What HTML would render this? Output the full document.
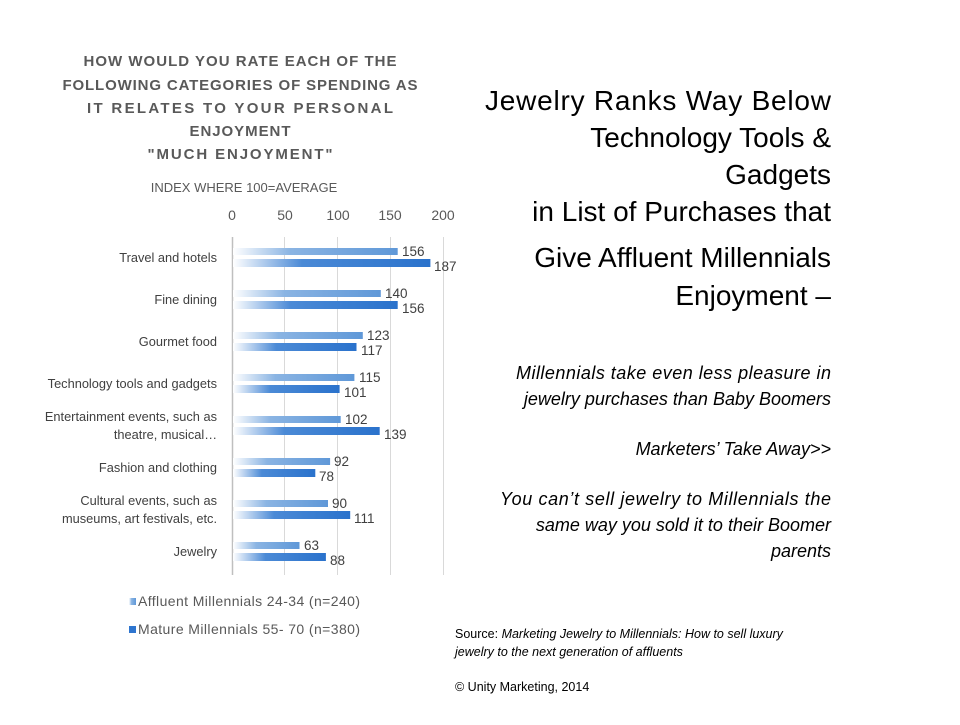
<!DOCTYPE html>
<html><head><meta charset="utf-8"><style>
body{margin:0;background:#fff;}
svg text{font-family:"Liberation Sans",sans-serif;}
</style></head><body>
<svg width="960" height="720" xmlns="http://www.w3.org/2000/svg">
<defs>
<linearGradient id="g1" x1="0" x2="1" y1="0" y2="0"><stop offset="0" stop-color="#fff"/><stop offset="0.35" stop-color="#8ab4e3"/><stop offset="1" stop-color="#5f98d8"/></linearGradient>
<linearGradient id="g2" x1="0" x2="1" y1="0" y2="0"><stop offset="0" stop-color="#fff"/><stop offset="0.35" stop-color="#4b8ad6"/><stop offset="1" stop-color="#2a72cc"/></linearGradient>
</defs>
<g font-size="15" font-weight="bold" fill="#595959" text-anchor="middle">
<text x="240" y="66" textLength="313">HOW WOULD YOU RATE EACH OF THE</text>
<text x="240" y="90" textLength="355">FOLLOWING CATEGORIES OF SPENDING AS</text>
<text x="240" y="113" textLength="306">IT RELATES TO YOUR PERSONAL</text>
<text x="240" y="136" textLength="101">ENJOYMENT</text>
<text x="240" y="159" textLength="185">"MUCH ENJOYMENT"</text>
</g>
<text x="244" y="192" font-size="13" fill="#595959" text-anchor="middle">INDEX WHERE 100=AVERAGE</text>
<g font-size="14" fill="#595959" text-anchor="middle">
<text x="232" y="220">0</text><text x="285" y="220">50</text><text x="338" y="220">100</text><text x="390" y="220">150</text><text x="443" y="220">200</text>
</g>
<g stroke="#d9d9d9" stroke-width="1">
<line x1="284.5" y1="237" x2="284.5" y2="575"/><line x1="337.5" y1="237" x2="337.5" y2="575"/><line x1="390.5" y1="237" x2="390.5" y2="575"/><line x1="443.5" y1="237" x2="443.5" y2="575"/>
</g>
<line x1="232.5" y1="237" x2="232.5" y2="575" stroke="#bfbfbf" stroke-width="1.5"/>
<g>
<rect x="233" y="248" width="164.7" height="7" fill="url(#g1)"/><rect x="233" y="259" width="197.4" height="8" fill="url(#g2)"/>
<rect x="233" y="290" width="147.8" height="7" fill="url(#g1)"/><rect x="233" y="301" width="164.7" height="8" fill="url(#g2)"/>
<rect x="233" y="332" width="129.8" height="7" fill="url(#g1)"/><rect x="233" y="343" width="123.5" height="8" fill="url(#g2)"/>
<rect x="233" y="374" width="121.4" height="7" fill="url(#g1)"/><rect x="233" y="385" width="106.6" height="8" fill="url(#g2)"/>
<rect x="233" y="416" width="107.7" height="7" fill="url(#g1)"/><rect x="233" y="427" width="146.7" height="8" fill="url(#g2)"/>
<rect x="233" y="458" width="97.1" height="7" fill="url(#g1)"/><rect x="233" y="469" width="82.3" height="8" fill="url(#g2)"/>
<rect x="233" y="500" width="95.0" height="7" fill="url(#g1)"/><rect x="233" y="511" width="117.2" height="8" fill="url(#g2)"/>
<rect x="233" y="542" width="66.5" height="7" fill="url(#g1)"/><rect x="233" y="553" width="92.9" height="8" fill="url(#g2)"/>
</g>
<g font-size="13.5" fill="#404040">
<text x="402" y="256">156</text><text x="434" y="271">187</text>
<text x="385" y="298">140</text><text x="402" y="313">156</text>
<text x="367" y="340">123</text><text x="361" y="355">117</text>
<text x="359" y="382">115</text><text x="344" y="397">101</text>
<text x="345" y="424">102</text><text x="384" y="439">139</text>
<text x="334" y="466">92</text><text x="319" y="481">78</text>
<text x="332" y="508">90</text><text x="354" y="523">111</text>
<text x="304" y="550">63</text><text x="330" y="565">88</text>
</g>
<g font-size="12.8" fill="#404040" text-anchor="end">
<text x="217" y="262">Travel and hotels</text>
<text x="217" y="304">Fine dining</text>
<text x="217" y="346">Gourmet food</text>
<text x="217" y="388">Technology tools and gadgets</text>
<text x="217" y="421">Entertainment events, such as</text>
<text x="217" y="439">theatre, musical…</text>
<text x="217" y="472">Fashion and clothing</text>
<text x="217" y="505">Cultural events, such as</text>
<text x="217" y="523">museums, art festivals, etc.</text>
<text x="217" y="556">Jewelry</text>
</g>
<rect x="129" y="598" width="7" height="7" fill="url(#g1)"/>
<text x="138" y="606" font-size="14" fill="#595959" textLength="222">Affluent Millennials 24-34 (n=240)</text>
<rect x="129" y="626" width="7" height="7" fill="#2e75cf"/>
<text x="138" y="634" font-size="14" fill="#595959" textLength="222">Mature Millennials 55- 70 (n=380)</text>
<g font-size="28" fill="#000" text-anchor="end">
<text x="831" y="110" textLength="346">Jewelry Ranks Way Below</text>
<text x="831" y="147">Technology Tools &amp;</text>
<text x="831" y="184">Gadgets</text>
<text x="831" y="221">in List of Purchases that</text>
<text x="831" y="267">Give Affluent Millennials</text>
<text x="831" y="305">Enjoyment –</text>
</g>
<g font-size="18" font-style="italic" fill="#000" text-anchor="end">
<text x="831" y="379" textLength="315">Millennials take even less pleasure in</text>
<text x="831" y="405">jewelry purchases than Baby Boomers</text>
<text x="831" y="455">Marketers’ Take Away&gt;&gt;</text>
<text x="831" y="505" textLength="331">You can’t sell jewelry to Millennials the</text>
<text x="831" y="531">same way you sold it to their Boomer</text>
<text x="831" y="557">parents</text>
</g>
<g font-size="12.5" fill="#000">
<text x="455" y="638">Source: <tspan font-style="italic">Marketing Jewelry to Millennials:  How to sell luxury</tspan></text>
<text x="455" y="656" font-style="italic">jewelry to the next generation of affluents</text>
<text x="455" y="691">© Unity Marketing, 2014</text>
</g>
</svg>
</body></html>
